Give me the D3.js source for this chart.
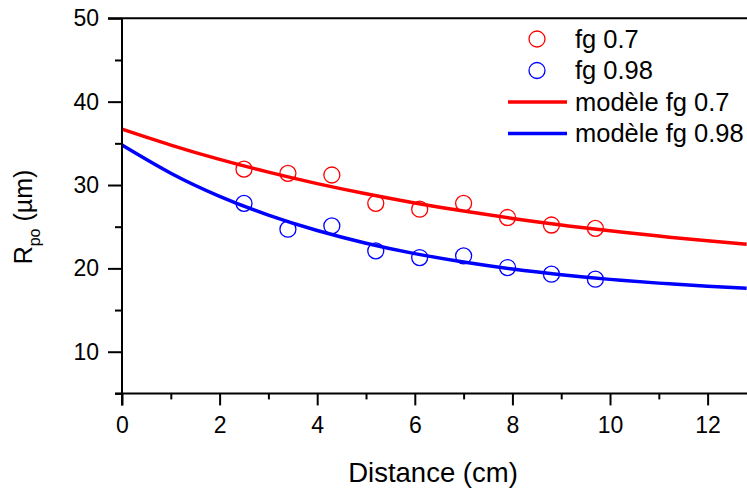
<!DOCTYPE html>
<html>
<head>
<meta charset="utf-8">
<script src="https://cdnjs.cloudflare.com/ajax/libs/d3/7.8.5/d3.min.js"></script>
<style>
  html, body { margin: 0; padding: 0; background: #fff; }
  svg { display: block; font-family: "Liberation Sans", Arial, sans-serif; }
</style>
</head>
<body>
<svg id="chart" width="747" height="493"></svg>
<script>
// ---- data ----
const distances = [2.5, 3.4, 4.3, 5.2, 6.1, 7.0, 7.9, 8.8, 9.7];
const fg07 = [31.9, 31.4, 31.2, 27.8, 27.1, 27.8, 26.1, 25.2, 24.8];
const fg098 = [27.8, 24.7, 25.1, 22.1, 21.3, 21.5, 20.1, 19.3, 18.7];

const modelX = [0, 1, 2, 3, 4, 5, 6, 7, 8, 9, 10, 11, 12, 12.8];
const model07 = [36.7, 34.79, 33.07, 31.54, 30.17, 28.95, 27.85, 26.87, 25.99, 25.2, 24.5, 23.87, 23.31, 22.9];
const model098 = [34.8, 31.42, 28.65, 26.39, 24.54, 23.02, 21.77, 20.76, 19.92, 19.24, 18.68, 18.23, 17.85, 17.6];

const xTicks = [0, 2, 4, 6, 8, 10, 12];
const xMinor = [1, 3, 5, 7, 9, 11];
const yTicks = [10, 20, 30, 40, 50];
const yMinor = [5, 15, 25, 35, 45];

const legendItems = [
  { label: "fg 0.7", type: "circle", color: "#ff0000" },
  { label: "fg 0.98", type: "circle", color: "#0000ff" },
  { label: "modèle fg 0.7", type: "line", color: "#ff0000" },
  { label: "modèle fg 0.98", type: "line", color: "#0000ff" }
];

// ---- layout ----
const svg = d3.select("#chart");
const x = d3.scaleLinear().domain([0, 12.807]).range([122, 747]);
const y = d3.scaleLinear().domain([5, 50]).range([393.4, 18.3]);

// model curves
const line = d3.line().x(d => x(d[0])).y(d => y(d[1])).curve(d3.curveNatural);
svg.append("path")
  .attr("d", line(modelX.map((v, i) => [v, model07[i]])))
  .attr("fill", "none").attr("stroke", "#ff0000").attr("stroke-width", 3.5);
svg.append("path")
  .attr("d", line(modelX.map((v, i) => [v, model098[i]])))
  .attr("fill", "none").attr("stroke", "#0000ff").attr("stroke-width", 3.5);

// scatter points
svg.append("g").selectAll("circle").data(distances).join("circle")
  .attr("cx", d => x(d)).attr("cy", (d, i) => y(fg07[i])).attr("r", 8)
  .attr("fill", "none").attr("stroke", "#ff0000").attr("stroke-width", 1.3);
svg.append("g").selectAll("circle").data(distances).join("circle")
  .attr("cx", d => x(d)).attr("cy", (d, i) => y(fg098[i])).attr("r", 8)
  .attr("fill", "none").attr("stroke", "#0000ff").attr("stroke-width", 1.3);

// axes
const axisColor = "#000";
const xAxis = d3.axisBottom(x).tickValues(xTicks).tickSize(12).tickPadding(11).tickFormat(d3.format("d"));
const gx = svg.append("g").attr("transform", `translate(0,${y(5)})`).call(xAxis);
gx.select(".domain").remove();
gx.selectAll(".tick line").attr("stroke", axisColor).attr("stroke-width", 2);
gx.selectAll(".tick text").attr("font-size", 23).attr("fill", "#000")
  .attr("font-family", "Liberation Sans, Arial, sans-serif");
const gxm = svg.append("g").attr("transform", `translate(0,${y(5)})`)
  .call(d3.axisBottom(x).tickValues(xMinor).tickSize(6).tickFormat(""));
gxm.select(".domain").remove();
gxm.selectAll(".tick line").attr("stroke", axisColor).attr("stroke-width", 2);

const yAxis = d3.axisLeft(y).tickValues(yTicks).tickSize(14).tickPadding(9).tickFormat(d3.format("d"));
const gy = svg.append("g").attr("transform", `translate(${x(0)},0)`).call(yAxis);
gy.select(".domain").remove();
gy.selectAll(".tick line").attr("stroke", axisColor).attr("stroke-width", 2);
gy.selectAll(".tick text").attr("font-size", 23).attr("fill", "#000")
  .attr("font-family", "Liberation Sans, Arial, sans-serif");
const gym = svg.append("g").attr("transform", `translate(${x(0)},0)`)
  .call(d3.axisLeft(y).tickValues(yMinor).tickSize(7).tickFormat(""));
gym.select(".domain").remove();
gym.selectAll(".tick line").attr("stroke", axisColor).attr("stroke-width", 2);

// axis lines
svg.append("line").attr("x1", x(0) - 7).attr("x2", 747).attr("y1", y(5)).attr("y2", y(5))
  .attr("stroke", axisColor).attr("stroke-width", 2);
svg.append("line").attr("x1", x(0)).attr("x2", x(0)).attr("y1", y(50)).attr("y2", y(5) + 12)
  .attr("stroke", axisColor).attr("stroke-width", 2);
svg.append("line").attr("x1", x(0) - 14).attr("x2", 747).attr("y1", y(50)).attr("y2", y(50))
  .attr("stroke", axisColor).attr("stroke-width", 2);

// axis titles
svg.append("text").attr("x", 433).attr("y", 482).attr("text-anchor", "middle")
  .attr("font-size", 27.5).text("Distance (cm)");

const yl = svg.append("text").attr("transform", "translate(32,217) rotate(-90)")
  .attr("text-anchor", "middle").attr("font-size", 25);
yl.append("tspan").text("R");
yl.append("tspan").attr("font-size", 16).attr("dy", 8).text("po");
yl.append("tspan").attr("dy", -8).text(" (µm)");

// legend
const lg = svg.append("g");
const rowY = [39, 70.5, 102, 133.5];
legendItems.forEach((it, i) => {
  if (it.type === "circle") {
    lg.append("circle").attr("cx", 537).attr("cy", rowY[i]).attr("r", 8)
      .attr("fill", "none").attr("stroke", it.color).attr("stroke-width", 1.3);
  } else {
    lg.append("line").attr("x1", 508).attr("x2", 567).attr("y1", rowY[i]).attr("y2", rowY[i])
      .attr("stroke", it.color).attr("stroke-width", 3.5);
  }
  lg.append("text").attr("x", 575).attr("y", rowY[i] + 8.5).attr("font-size", 25.5)
    .text(it.label);
});
</script>
</body>
</html>
